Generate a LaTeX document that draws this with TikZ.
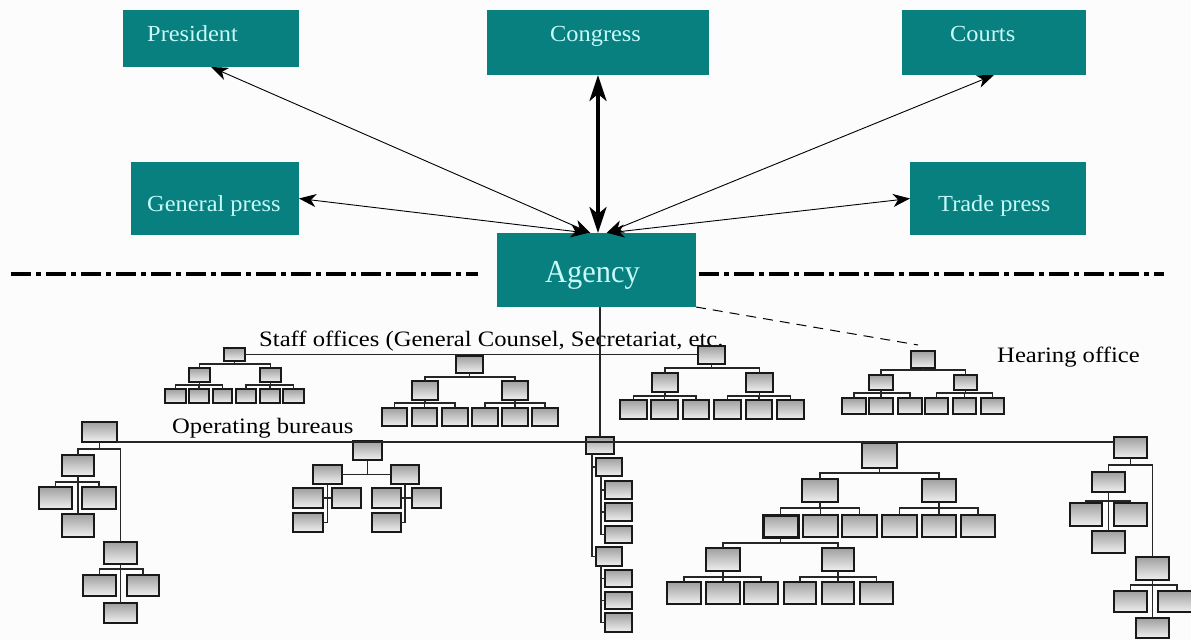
\documentclass[tikz,border=0pt]{standalone}
\usepackage{fontspec}
\setmainfont{Liberation Serif}[FakeStretch=1.12]
\newfontfamily\tealfont{Liberation Serif}[FakeStretch=1.06]
\newfontfamily\agfont{Liberation Serif}[FakeStretch=0.95]
\usetikzlibrary{arrows.meta}
\definecolor{teal1}{RGB}{8,128,128}
\definecolor{tealtxt}{RGB}{200,250,250}
\definecolor{bg}{RGB}{252,252,252}
\newcommand\rbox[6][orgbox]{\node[#1,minimum width={#5-#3},minimum height={#6-#4}] (#2) at ({(#3+#5)/2},{(#4+#6)/2}) {};}
\newcommand\fork[3]{\draw[conn] (#1.south) -- ++(0,#2) coordinate (fk-#1);
  \foreach \c in {#3}{\draw[conn] (\c.north) |- (fk-#1);}}
\begin{document}
\begin{tikzpicture}[x=1pt,y=-1pt,
  tbox/.style={fill=teal1, draw=none, inner sep=0pt, outer sep=0pt},
  tlbl/.style={text=tealtxt, font=\tealfont\fontsize{23}{27}\selectfont, inner sep=0pt, anchor=base west},
  blbl/.style={text=black, font=\fontsize{22}{26}\selectfont, inner sep=0pt, anchor=base west},
  orgbox/.style={draw=black!90, line width=1.5pt, top color=gray!75, bottom color=gray!12, inner sep=0pt, outer sep=0pt},
  conn/.style={draw=black!85, line width=1.3pt},
  thinarrow/.style={line width=0.9pt, {Stealth[length=17pt,width=13pt,inset=5pt]}-{Stealth[length=17pt,width=13pt,inset=5pt]}},
  thickarrow/.style={line width=3.6pt, {Stealth[length=26pt,width=17pt,inset=7pt]}-{Stealth[length=26pt,width=17pt,inset=7pt]}},
  sepline/.style={line width=4.5pt, dash pattern=on 20pt off 5pt on 5pt off 5pt},
  hdash/.style={line width=1pt, dash pattern=on 10pt off 7pt}]
\fill[bg] (0,0) rectangle (1191,640);
\useasboundingbox (0,0) rectangle (1191,640);

% top level boxes
\rbox[tbox]{president}{123}{10}{299}{67}
\rbox[tbox]{congress}{487}{10}{709}{75}
\rbox[tbox]{courts}{902}{10}{1086}{75}
\rbox[tbox]{gp}{131}{162}{299}{235}
\rbox[tbox]{tp}{910}{162}{1086}{235}
\rbox[tbox]{agency}{497}{233}{696}{307}
\node[tlbl] (lpres) at (147,41) {President};
\node[tlbl] (lcong) at (550,41) {Congress};
\node[tlbl] (lcourt) at (950,41) {Courts};
\node[tlbl] (lgp) at (147,211) {General press};
\node[tlbl] (ltp) at (938,211) {Trade press};
\node[tlbl, font=\agfont\fontsize{32}{36}\selectfont] (lag) at (545,282) {Agency};

% arrows
\draw[thinarrow] (president.south) -- ([xshift=-6pt]agency.north);
\draw[thinarrow] (gp.east) -- ([xshift=-9pt]agency.north);
\draw[thickarrow] (congress.south) -- (congress.south |- agency.north);
\draw[thinarrow] (courts.south) -- ([xshift=10pt]agency.north);
\draw[thinarrow] (tp.west) -- ([xshift=11pt]agency.north);

% separator lines
\coordinate (sl1) at (11,274);
\coordinate (sl2) at (478,274);
\coordinate (sl3) at (699,274);
\coordinate (sl4) at (1164,274);
\draw[sepline] (sl1) -- (sl2);
\draw[sepline] (sl3) -- (sl4);

% labels
\node[blbl] (lstaff) at (259,346) {Staff offices (General Counsel, Secretariat, etc.};
\node[blbl] (lop) at (172,433) {Operating bureaus};
\node[blbl] (lhear) at (997,362) {Hearing office};

% ---- staff group 1
\rbox{s1t}{224}{348}{245}{361}
\rbox{s1a}{189}{368}{210}{382}
\rbox{s1b}{260}{368}{281}{382}
\rbox{s1a1}{165}{389}{186}{403}
\rbox{s1a2}{189}{389}{209}{403}
\rbox{s1a3}{213}{389}{232}{403}
\rbox{s1b1}{236}{389}{256}{403}
\rbox{s1b2}{260}{389}{280}{403}
\rbox{s1b3}{283}{389}{304}{403}
\fork{s1t}{3}{s1a,s1b}
\fork{s1a}{3}{s1a1,s1a2,s1a3}
\fork{s1b}{3}{s1b1,s1b2,s1b3}
% ---- staff group 2
\rbox{s2t}{456}{356}{483}{373}
\rbox{s2a}{412}{381}{438}{400}
\rbox{s2b}{502}{381}{528}{400}
\rbox{s2a1}{382}{408}{407}{426}
\rbox{s2a2}{412}{408}{437}{426}
\rbox{s2a3}{442}{408}{468}{426}
\rbox{s2b1}{472}{408}{498}{426}
\rbox{s2b2}{502}{408}{528}{426}
\rbox{s2b3}{532}{408}{558}{426}
\fork{s2t}{4}{s2a,s2b}
\fork{s2a}{3}{s2a1,s2a2,s2a3}
\fork{s2b}{3}{s2b1,s2b2,s2b3}
% ---- staff group 3
\rbox{s3t}{698}{346}{725}{364}
\rbox{s3a}{652}{373}{678}{392}
\rbox{s3b}{746}{373}{773}{392}
\rbox{s3a1}{620}{400}{647}{419}
\rbox{s3a2}{651}{400}{678}{419}
\rbox{s3a3}{683}{400}{709}{419}
\rbox{s3b1}{714}{400}{741}{419}
\rbox{s3b2}{746}{400}{772}{419}
\rbox{s3b3}{777}{400}{804}{419}
\fork{s3t}{4}{s3a,s3b}
\fork{s3a}{4}{s3a1,s3a2,s3a3}
\fork{s3b}{4}{s3b1,s3b2,s3b3}
% ---- hearing office group
\rbox{s4t}{911}{351}{935}{368}
\rbox{s4a}{869}{375}{893}{390}
\rbox{s4b}{954}{375}{977}{390}
\rbox{s4a1}{842}{398}{866}{414}
\rbox{s4a2}{869}{398}{893}{414}
\rbox{s4a3}{898}{398}{922}{414}
\rbox{s4b1}{925}{398}{948}{414}
\rbox{s4b2}{953}{398}{976}{414}
\rbox{s4b3}{981}{398}{1004}{414}
\fork{s4t}{2}{s4a,s4b}
\fork{s4a}{3}{s4a1,s4a2,s4a3}
\fork{s4b}{3}{s4b1,s4b2,s4b3}

% ---- operating bureau 1
\rbox{o1t}{82}{422}{117}{442}
\rbox{o1a}{62}{455}{94}{476}
\rbox{o1a1}{39}{487}{72}{509}
\rbox{o1a2}{82}{487}{116}{509}
\rbox{o1a3}{62}{514}{94}{537}
\rbox{o1b}{104}{542}{137}{564}
\rbox{o1b1}{83}{575}{116}{596}
\rbox{o1b2}{127}{575}{159}{596}
\rbox{o1b3}{104}{603}{137}{623}
\fork{o1t}{7}{o1a,o1b}
\fork{o1a}{6}{o1a1,o1a2}
\draw[conn] (o1a.south) -- (o1a3.north);
\fork{o1b}{5}{o1b1,o1b2}
\draw[conn] (o1b.south) -- (o1b3.north);
% ---- operating bureau 2
\rbox{o2t}{353}{441}{382}{460}
\rbox{o2a}{313}{465}{342}{484}
\rbox{o2b}{391}{465}{419}{484}
\rbox{o2a1}{293}{488}{323}{508}
\rbox{o2a2}{332}{488}{361}{508}
\rbox{o2a3}{293}{513}{323}{532}
\rbox{o2b1}{372}{488}{401}{508}
\rbox{o2b2}{412}{488}{441}{508}
\rbox{o2b3}{372}{513}{401}{532}
\draw[conn] (o2t.south) -- (o2t.south |- o2a.east);
\draw[conn] (o2a.east) -- (o2b.west);
\draw[conn] (o2a.south) |- (o2a3.east);
\draw[conn] (o2a1.east) -- (o2a2.west);
\draw[conn] (o2b.south) |- (o2b3.east);
\draw[conn] (o2b1.east) -- (o2b2.west);
% ---- operating bureau 3
\rbox{o3t}{586}{437}{614}{454}
\rbox{o3a}{596}{458}{622}{476}
\rbox{o3b}{596}{547}{622}{566}
\rbox{o3a1}{605}{481}{632}{499}
\rbox{o3a2}{605}{503}{632}{521}
\rbox{o3a3}{605}{526}{632}{543}
\rbox{o3b1}{605}{570}{632}{587}
\rbox{o3b2}{605}{592}{632}{609}
\rbox{o3b3}{605}{613}{632}{632}
\coordinate (o3s) at ([xshift=6pt]o3t.south west);
\draw[conn] (o3s) |- (o3b.west);
\draw[conn] (o3s |- o3a.west) -- (o3a.west);
\coordinate (o3as) at ([xshift=5pt]o3a.south west);
\draw[conn] (o3as) |- (o3a3.west);
\draw[conn] (o3as |- o3a1.west) -- (o3a1.west);
\draw[conn] (o3as |- o3a2.west) -- (o3a2.west);
\coordinate (o3bs) at ([xshift=5pt]o3b.south west);
\draw[conn] (o3bs) |- (o3b3.west);
\draw[conn] (o3bs |- o3b1.west) -- (o3b1.west);
\draw[conn] (o3bs |- o3b2.west) -- (o3b2.west);
% ---- operating bureau 4
\rbox{o4t}{862}{443}{897}{468}
\rbox{o4a}{802}{479}{838}{502}
\rbox{o4b}{922}{479}{956}{502}
\rbox[orgbox,line width=3pt]{o4a1}{763}{515}{798}{537}
\rbox{o4a2}{803}{515}{838}{537}
\rbox{o4a3}{842}{515}{877}{537}
\rbox{o4b1}{882}{515}{917}{537}
\rbox{o4b2}{922}{515}{956}{537}
\rbox{o4b3}{961}{515}{995}{537}
\rbox{o4c}{706}{548}{740}{571}
\rbox{o4d}{822}{548}{854}{571}
\rbox{o4c1}{667}{582}{701}{604}
\rbox{o4c2}{706}{582}{740}{604}
\rbox{o4c3}{744}{582}{778}{604}
\rbox{o4d1}{784}{582}{816}{604}
\rbox{o4d2}{822}{582}{854}{604}
\rbox{o4d3}{860}{582}{893}{604}
\fork{o4t}{5}{o4a,o4b}
\fork{o4a}{6}{o4a1,o4a2,o4a3}
\fork{o4b}{6}{o4b1,o4b2,o4b3}
\fork{o4a1}{6}{o4c,o4d}
\fork{o4c}{6}{o4c1,o4c2,o4c3}
\fork{o4d}{6}{o4d1,o4d2,o4d3}
% ---- operating bureau 5
\rbox{o5t}{1114}{437}{1147}{458}
\rbox{o5a}{1092}{472}{1125}{492}
\rbox{o5a1}{1070}{503}{1102}{526}
\rbox{o5a2}{1114}{503}{1147}{526}
\rbox{o5a3}{1092}{531}{1125}{553}
\rbox{o5b}{1136}{557}{1169}{580}
\rbox{o5b1}{1114}{591}{1147}{612}
\rbox{o5b2}{1158}{591}{1196}{612}
\rbox{o5b3}{1136}{618}{1169}{638}
\fork{o5t}{7}{o5a,o5b}
\fork{o5a}{9}{o5a1,o5a2}
\draw[conn] (o5a.south) -- (o5a3.north);
\fork{o5b}{5}{o5b1,o5b2}
\draw[conn] (o5b.south) -- (o5b3.north);

% main connecting lines
\coordinate (opl) at (0,442);
\draw[conn] (o1t.east |- opl) -- (o5t.west |- opl);
\draw[conn] (s1t.east) -- (s1t.east -| s3t.west);
\draw[conn] (agency.south -| o3t.north) -- (o3t.north);
\coordinate (hd) at ([shift={(7pt,6pt)}]s4t.north west);
\draw[hdash] (agency.south east) -- (hd);
\end{tikzpicture}
\end{document}
